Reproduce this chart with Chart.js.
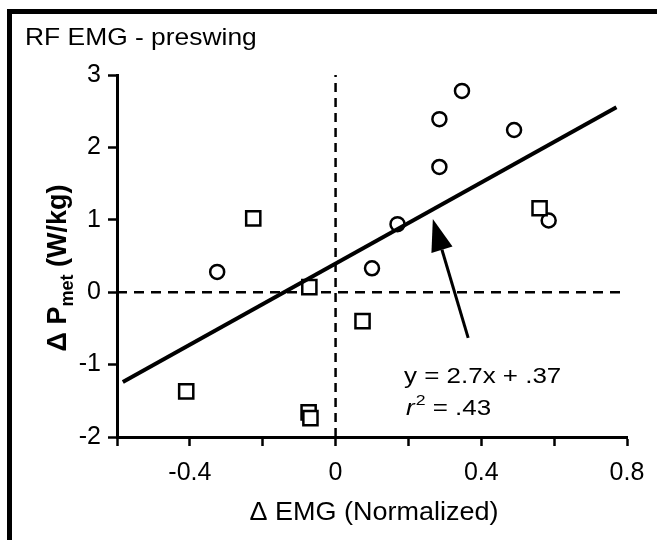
<!DOCTYPE html>
<html>
<head>
<meta charset="utf-8">
<script src="https://cdn.jsdelivr.net/npm/chart.js@4"></script>
<style>
  html, body { margin: 0; padding: 0; background: #fff; }
  #wrap { position: relative; width: 657px; height: 540px; overflow: hidden; }
  #frame { position: absolute; left: 7px; top: 9px; width: 700px; height: 600px;
           border-top: 5px solid #000; border-left: 5px solid #000; }
  #plot { position: absolute; left: 0; top: 0; }
</style>
</head>
<body>
<div id="wrap">
  <div id="frame"></div>
  <canvas id="plot" width="657" height="540"></canvas>
</div>
<script>
// circles and squares
const circleX = [-0.325, 0.10, 0.17, 0.285, 0.285, 0.347, 0.49, 0.585];
const circleY = [0.28, 0.33, 0.94, 1.73, 2.39, 2.78, 2.24, 0.99];
const squareX = [-0.41, -0.226, -0.072, -0.074, -0.069, 0.074, 0.56];
const squareY = [-1.37, 1.02, 0.07, -1.66, -1.74, -0.40, 1.16];

// regression line end points
const fitX = [-0.584, 0.771];
const fitY = [-1.24, 2.555];

// arrow pointing at the line (tail -> tip)
const arrowX = [0.364, 0.267];
const arrowY = [-0.63, 1.01];

const xLabels = ['-0.4', '0', '0.4', '0.8'];
const xRange = [-0.6, 0.8];
const yRange = [-2, 3];

const FONT = "'Liberation Sans', Arial, Helvetica, sans-serif";
Chart.defaults.font.family = FONT;
Chart.defaults.color = '#000';

function pts(xs, ys) {
    return xs.map((v, i) => ({ x: v, y: ys[i] }));
}

// the reference text is a little wider than it is tall
function wideText(ctx, text, x, y, sx) {
    ctx.save();
    ctx.translate(x, y);
    ctx.scale(sx, 1);
    ctx.fillText(text, 0, 0);
    ctx.restore();
    return ctx.measureText(text).width * sx;
}

const overlay = {
    id: 'overlay',
    afterDatasetsDraw(chart) {
        const ctx = chart.ctx;
        const x = chart.scales.x, y = chart.scales.y;
        const sx = x.getPixelForValue(arrowX[0]), sy = y.getPixelForValue(arrowY[0]);
        const tx = x.getPixelForValue(arrowX[1]), ty = y.getPixelForValue(arrowY[1]);
        const ang = Math.atan2(ty - sy, tx - sx);
        const headLen = 32, headW = 11;
        const bx = tx - headLen * Math.cos(ang), by = ty - headLen * Math.sin(ang);
        ctx.save();
        ctx.strokeStyle = '#000';
        ctx.fillStyle = '#000';
        ctx.lineWidth = 3;
        ctx.beginPath();
        ctx.moveTo(sx, sy);
        ctx.lineTo(bx, by);
        ctx.stroke();
        ctx.beginPath();
        ctx.moveTo(tx, ty);
        ctx.lineTo(bx + headW * Math.sin(ang), by - headW * Math.cos(ang));
        ctx.lineTo(bx - headW * Math.sin(ang), by + headW * Math.cos(ang));
        ctx.closePath();
        ctx.fill();
        ctx.restore();
    },
    afterDraw(chart) {
        const ctx = chart.ctx;
        ctx.save();
        ctx.fillStyle = '#000';
        ctx.textBaseline = 'alphabetic';
        ctx.textAlign = 'left';

        // panel title
        ctx.font = '24px ' + FONT;
        wideText(ctx, 'RF EMG - preswing', 25, 45, 1.1);

        // x axis title
        ctx.font = '25px ' + FONT;
        const xt = '\u0394 EMG (Normalized)';
        const xw = ctx.measureText(xt).width * 1.08;
        wideText(ctx, xt, 374 - xw / 2, 520, 1.08);

        // equation
        ctx.font = '22px ' + FONT;
        wideText(ctx, 'y = 2.7x + .37', 404, 383, 1.18);
        ctx.font = 'italic 22px ' + FONT;
        let px = 406 + wideText(ctx, 'r', 406, 415, 1.18) + 1;
        ctx.font = '15px ' + FONT;
        px += wideText(ctx, '2', px, 405, 1.18);
        ctx.font = '22px ' + FONT;
        wideText(ctx, ' = .43', px, 415, 1.18);

        // y axis title, rotated, with subscript
        const big = 'bold 27px ' + FONT, small = 'bold 18px ' + FONT;
        const parts = [['\u0394 P', big, 0], ['met', small, 7], [' (W/kg)', big, 0]];
        let total = 0;
        parts.forEach(p => { ctx.font = p[1]; total += ctx.measureText(p[0]).width; });
        ctx.translate(66, 268);
        ctx.rotate(-Math.PI / 2);
        let cx = -total / 2;
        parts.forEach(p => {
            ctx.font = p[1];
            ctx.fillText(p[0], cx, p[2]);
            cx += ctx.measureText(p[0]).width;
        });
        ctx.restore();
    }
};

new Chart(document.getElementById('plot').getContext('2d'), {
    type: 'scatter',
    data: {
        datasets: [
            {
                type: 'line',
                data: pts(fitX, fitY),
                borderColor: '#000',
                borderWidth: 4,
                pointRadius: 0,
                fill: false,
                order: 0
            },
            {
                data: pts(squareX, squareY),
                pointStyle: 'rect',
                pointRadius: 10,
                borderColor: '#000',
                backgroundColor: '#fff',
                borderWidth: 2.5,
                order: 1
            },
            {
                data: pts(circleX, circleY),
                pointStyle: 'circle',
                pointRadius: 7,
                borderColor: '#000',
                backgroundColor: '#fff',
                borderWidth: 2.5,
                order: 2
            },
            {
                type: 'line',
                data: [{ x: xRange[0], y: 0 }, { x: xRange[1], y: 0 }],
                borderColor: '#000',
                borderWidth: 2.5,
                borderDash: [10, 7],
                pointRadius: 0,
                order: 3
            },
            {
                type: 'line',
                data: [{ x: 0, y: yRange[0] }, { x: 0, y: yRange[1] }],
                borderColor: '#000',
                borderWidth: 2.5,
                borderDash: [9, 6],
                pointRadius: 0,
                order: 3
            }
        ]
    },
    options: {
        responsive: false,
        animation: false,
        layout: { padding: { top: 75, right: 30, left: 0, bottom: 0 } },
        plugins: {
            legend: { display: false },
            tooltip: { enabled: false }
        },
        scales: {
            x: {
                type: 'linear',
                min: xRange[0],
                max: xRange[1],
                afterFit: s => { s.height = 103; },
                ticks: {
                    stepSize: 0.2,
                    padding: 12,
                    maxRotation: 0,
                    autoSkip: false,
                    font: { size: 25 },
                    callback: v => {
                        const s = (Math.round(v * 10) / 10).toString();
                        return xLabels.includes(s) ? s : '';
                    }
                },
                grid: {
                    drawOnChartArea: false,
                    tickLength: 9,
                    tickWidth: 2.5,
                    tickColor: '#000'
                },
                border: { color: '#000', width: 3 }
            },
            y: {
                min: yRange[0],
                max: yRange[1],
                afterFit: s => { s.width = 117; },
                ticks: {
                    stepSize: 1,
                    padding: 7,
                    font: { size: 25 }
                },
                grid: {
                    drawOnChartArea: false,
                    tickLength: 9,
                    tickWidth: 2.5,
                    tickColor: '#000'
                },
                border: { color: '#000', width: 3 }
            }
        }
    },
    plugins: [overlay]
});
</script>
</body>
</html>
